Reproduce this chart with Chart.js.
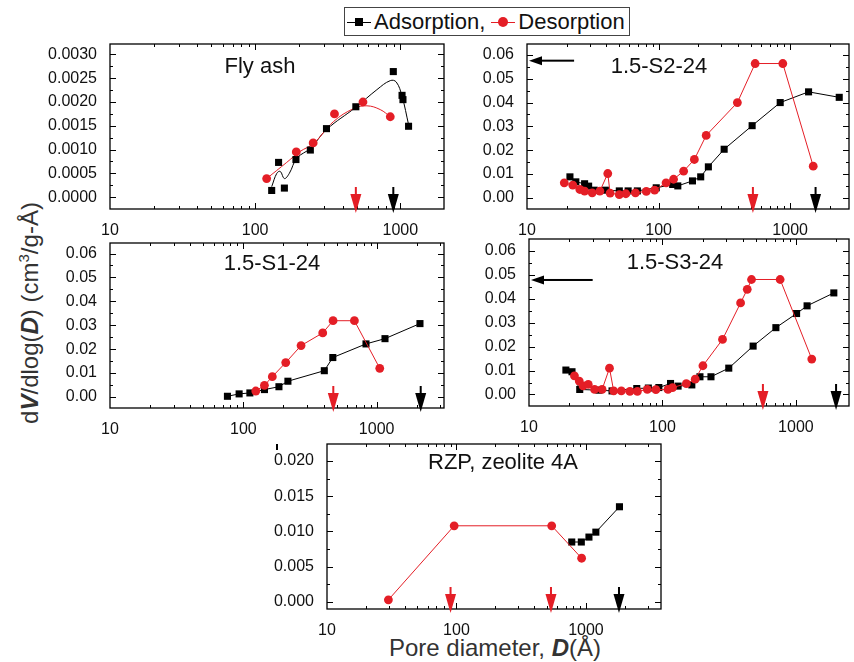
<!DOCTYPE html>
<html>
<head>
<meta charset="utf-8">
<script src="https://cdn.jsdelivr.net/npm/chart.js@4/dist/chart.umd.min.js"></script>
<style>
  html, body { margin: 0; padding: 0; background: #fff; overflow: hidden; }
  body { width: 854px; height: 662px; position: relative; font-family: "Liberation Sans", Arial, sans-serif; }
  canvas { position: absolute; }
  #legend { position: absolute; left: 344px; top: 7px; width: 282px; height: 27px; border: 1px solid #444;
            display: flex; align-items: center; font-size: 22px; color: #111; white-space: nowrap; padding-left: 2px; }
  .mk { position: relative; display: inline-block; width: 24px; height: 12px; margin-right: 3px; }
  .mk .ln { position: absolute; left: 0; right: 0; top: 6px; height: 1px; background: #000; }
  .mk .sq { position: absolute; left: 8px; top: 2px; width: 8px; height: 8px; background: #000; }
  .mk.red .ln { background: #e41e26; }
  .mk.red .dot { position: absolute; left: 7px; top: 1px; width: 10px; height: 10px; border-radius: 50%; background: #e41e26; }
  #ytitle { position: absolute; left: 29px; top: 313px; transform: translate(-50%, -50%) rotate(-90deg);
            font-size: 24px; color: #333; white-space: nowrap; }
  #xtitle { position: absolute; left: 495px; top: 648px; transform: translate(-50%, -50%);
            font-size: 24px; color: #333; white-space: nowrap; }
  #tick { position: absolute; left: 276px; top: 444px; width: 1.5px; height: 6px; background: #000; }
</style>
</head>
<body>
<div id="legend">
  <span class="mk"><i class="ln"></i><i class="sq"></i></span><span>Adsorption,</span>
  <span class="mk red" style="margin-left:6px"><i class="ln"></i><i class="dot"></i></span><span>Desorption</span>
</div>
<div id="ytitle">d<b><i>V</i></b>/dlog(<b><i>D</i></b>) (cm<sup style="font-size:15px">3</sup>/g-Å)</div>
<div id="xtitle">Pore diameter, <b><i>D</i></b>(Å)</div>
<div id="tick"></div>
<canvas id="c1"></canvas>
<canvas id="c2"></canvas>
<canvas id="c3"></canvas>
<canvas id="c4"></canvas>
<canvas id="c5"></canvas>
<script>
// ---- data: pore diameter D (Å) and dV/dlog(D) ----
var flyAdsD = [130, 145, 159, 191, 240, 310, 494, 895, 1028, 1043, 1140];
var flyAdsV = [0.00014, 0.00073, 0.00019, 0.00079, 0.00099, 0.00144, 0.0019, 0.00264, 0.00214, 0.00205, 0.00149];
var flyDesD = [120, 192, 251, 352, 553, 853];
var flyDesV = [0.00039, 0.00095, 0.00114, 0.00175, 0.0020, 0.00169];
// smoothed curves drawn through the fly ash data
var flyAdsFitD = [130, 141, 149, 159, 172, 194, 241, 310, 494, 690, 853, 938, 1028, 1141];
var flyAdsFitV = [0.00022, 0.0005, 0.00054, 0.00039, 0.0005, 0.00082, 0.00103, 0.00142, 0.00189, 0.00226, 0.00245, 0.00242, 0.00212, 0.00152];
var flyDesFitD = [120, 165, 204, 253, 347, 476, 589, 728, 853];
var flyDesFitV = [0.00039, 0.00073, 0.00096, 0.00113, 0.00159, 0.00186, 0.00192, 0.00184, 0.00169];

var s2AdsD = [21.2, 23.5, 27.4, 29.4, 32.4, 39.4, 50.3, 58.7, 69, 96, 128, 140, 181, 209, 239, 315, 514, 840, 1380, 2360];
var s2AdsV = [0.0088, 0.0067, 0.0059, 0.0049, 0.0032, 0.0032, 0.0029, 0.0029, 0.0029, 0.0042, 0.0056, 0.005, 0.0071, 0.0088, 0.013, 0.0204, 0.0303, 0.040, 0.0445, 0.0422];
var s2DesD = [19.2, 22.3, 25.2, 27.4, 31.3, 35.8, 41.1, 42.8, 50.3, 56.4, 66.7, 80.7, 93.3, 114, 130, 155, 187, 230, 397, 542, 879, 1497];
var s2DesV = [0.0063, 0.0053, 0.0035, 0.0028, 0.0021, 0.0028, 0.0102, 0.002, 0.0013, 0.0017, 0.0021, 0.0027, 0.0032, 0.0063, 0.0078, 0.0112, 0.0161, 0.0262, 0.040, 0.0564, 0.0564, 0.0133];

var s1AdsD = [76, 93, 112, 144, 185, 216, 405, 469, 832, 1155, 2113];
var s1AdsV = [0.0003, 0.0013, 0.0017, 0.0031, 0.0043, 0.0066, 0.011, 0.0165, 0.0222, 0.0244, 0.0307];
var s1DesD = [124, 144, 165, 208, 271, 394, 471, 681, 1055];
var s1DesV = [0.0025, 0.0049, 0.0085, 0.0144, 0.0215, 0.0268, 0.0319, 0.0319, 0.012];

var s3AdsD = [18.9, 21, 24, 33.4, 41.9, 64.2, 78.4, 94, 115, 131, 166, 191, 231, 314, 478, 708, 1012, 1213, 1924];
var s3AdsV = [0.0102, 0.0095, 0.0021, 0.0018, 0.0015, 0.0025, 0.0027, 0.0029, 0.0046, 0.0035, 0.004, 0.0074, 0.0074, 0.011, 0.0202, 0.0279, 0.0338, 0.037, 0.0424];
var s3DesD = [21.9, 23.8, 25.4, 27.8, 31, 35.3, 40.1, 43.1, 49.2, 57, 64.9, 77, 89.3, 110, 119, 151, 176, 201, 282, 385, 432, 465, 762, 1315];
var s3DesV = [0.0078, 0.0056, 0.0036, 0.0042, 0.0021, 0.0021, 0.011, 0.0015, 0.0015, 0.0013, 0.0013, 0.0021, 0.002, 0.0021, 0.0029, 0.0045, 0.0064, 0.012, 0.023, 0.0382, 0.0439, 0.048, 0.048, 0.0148];

var rzpAdsD = [777, 921, 1055, 1193, 1815];
var rzpAdsV = [0.0085, 0.0085, 0.0092, 0.0099, 0.0135];
var rzpDesD = [29.8, 96, 544, 926];
var rzpDesV = [0.0003, 0.0108, 0.0108, 0.0062];

// arrow markers (D values) and horizontal arrows (level, end D)
var flyRedArrows = [494], flyBlackArrows = [895];
var s2RedArrows = [521], s2BlackArrows = [1560], s2Level = [0.0576, 22.8];
var s1RedArrows = [473], s1BlackArrows = [2140];
var s3RedArrows = [566], s3BlackArrows = [2000], s3Level = [0.0478, 30];
var rzpRedArrows = [90, 537], rzpBlackArrows = [1800];

// tick labels
var xTicks = [10, 100, 1000];
var flyTicks = [0, 0.0005, 0.001, 0.0015, 0.002, 0.0025, 0.003];
var sTicks = [0, 0.01, 0.02, 0.03, 0.04, 0.05, 0.06];
var rzpTicks = [0, 0.005, 0.01, 0.015, 0.02];

var RED = '#e41e26';
var FONT = '"Liberation Sans", Arial, sans-serif';

function pts(xs, ys) {
    return xs.map(function (x, i) { return { x: x, y: ys[i] }; });
}

function series(xs, ys, red) {
    var c = red ? RED : '#000';
    return {
        data: pts(xs, ys), borderColor: c, backgroundColor: c, borderWidth: 1,
        pointStyle: red ? 'circle' : 'rect', pointRadius: red ? 4.4 : 5, pointBorderWidth: 0, tension: 0
    };
}

var framePlugin = {
    id: 'frame',
    afterDatasetsDraw: function (chart, args, o) {
        var ctx = chart.ctx, a = chart.chartArea, xs = chart.scales.x, ys = chart.scales.y;
        ctx.save();
        ctx.strokeStyle = '#000';
        ctx.lineWidth = 1;
        ctx.beginPath();
        var lo = Math.floor(Math.log10(xs.min)), hi = Math.ceil(Math.log10(xs.max));
        for (var k = lo; k <= hi; k++) {
            for (var m = 1; m < 10; m++) {
                var v = m * Math.pow(10, k);
                if (v <= xs.min || v >= xs.max) continue;
                var px = Math.round(xs.getPixelForValue(v)) + 0.5, len = m === 1 ? 6 : 3;
                ctx.moveTo(px, a.bottom); ctx.lineTo(px, a.bottom - len);
                ctx.moveTo(px, a.top); ctx.lineTo(px, a.top + len);
            }
        }
        var yt = o.yTicks, step = yt[1] - yt[0];
        for (var i = 0; i < yt.length; i++) {
            [[yt[i], 6], [yt[i] + step / 2, 3]].forEach(function (t) {
                if (t[0] >= ys.max) return;
                var py = Math.round(ys.getPixelForValue(t[0])) + 0.5;
                ctx.moveTo(a.left, py); ctx.lineTo(a.left + t[1], py);
                ctx.moveTo(a.right, py); ctx.lineTo(a.right - t[1], py);
            });
        }
        ctx.stroke();
        ctx.lineWidth = 1.3;
        ctx.strokeRect(a.left, a.top, a.right - a.left, a.bottom - a.top);

        // downward arrows at the x axis
        var arrows = o.red.map(function (d) { return [d, RED]; }).concat(o.black.map(function (d) { return [d, '#000']; }));
        arrows.forEach(function (ar) {
            var x = xs.getPixelForValue(ar[0]);
            ctx.fillStyle = ar[1];
            ctx.fillRect(x - 1, a.bottom - 22, 2, 8);
            ctx.beginPath();
            ctx.moveTo(x - 5.5, a.bottom - 15);
            ctx.lineTo(x + 5.5, a.bottom - 15);
            ctx.lineTo(x, a.bottom + 4);
            ctx.closePath();
            ctx.fill();
        });
        // horizontal arrow pointing to the y axis
        if (o.level) {
            var y = ys.getPixelForValue(o.level[0]);
            var x2 = xs.getPixelForValue(o.level[1]);
            ctx.fillStyle = '#000';
            ctx.fillRect(a.left + 14, y - 1, x2 - a.left - 14, 2);
            ctx.beginPath();
            ctx.moveTo(a.left + 2, y);
            ctx.lineTo(a.left + 15, y - 4.5);
            ctx.lineTo(a.left + 15, y + 4.5);
            ctx.closePath();
            ctx.fill();
        }
        // panel label
        ctx.fillStyle = '#111';
        ctx.font = '22px ' + FONT;
        ctx.textAlign = 'center';
        ctx.textBaseline = 'middle';
        ctx.fillText(o.title, a.left + o.tx, a.top + o.ty);
        ctx.restore();
    }
};

function panel(id, box, xMax, yMin, yMax, yTicks, dec, datasets, extra) {
    var padR = box.padR === undefined ? 10 : box.padR;
    var cv = document.getElementById(id);
    var w = box.R - box.L, h = box.B - box.T;
    cv.width = Math.round(w + 80 + padR);
    cv.height = Math.round(h + 8 + 30);
    cv.style.left = (box.L - 80) + 'px';
    cv.style.top = (box.T - 8) + 'px';
    var zeroPad = function (s) { s.paddingLeft = 0; s.paddingRight = 0; s.paddingTop = 0; s.paddingBottom = 0; };
    extra.yTicks = yTicks;
    return new Chart(cv, {
        type: 'scatter',
        data: { datasets: datasets },
        options: {
            responsive: false,
            animation: false,
            devicePixelRatio: 1,
            layout: { padding: { left: 0, top: 8, right: cv.width - 80 - w, bottom: 0 } },
            plugins: { legend: { display: false }, tooltip: { enabled: false }, frame: extra },
            scales: {
                x: {
                    type: 'logarithmic', min: 10, max: xMax,
                    grid: { display: false }, border: { display: false },
                    afterBuildTicks: function (s) { s.ticks = xTicks.map(function (v) { return { value: v }; }); },
                    afterFit: function (s) { s.height = 30; zeroPad(s); },
                    ticks: { autoSkip: false, maxRotation: 0, padding: 4, color: '#111',
                             font: { family: FONT, size: 16 },
                             callback: function (v) { return String(v); } }
                },
                y: {
                    min: yMin, max: yMax,
                    grid: { display: false }, border: { display: false },
                    afterBuildTicks: function (s) { s.ticks = yTicks.map(function (v) { return { value: v }; }); },
                    afterFit: function (s) { s.width = 80; zeroPad(s); },
                    ticks: { padding: 5, color: '#111', font: { family: FONT, size: 16 },
                             callback: function (v) { return Number(v).toFixed(dec); } }
                }
            }
        },
        plugins: [framePlugin]
    });
}

function fit(xs, ys, red) {
    var d = series(xs, ys, red);
    d.pointRadius = 0;
    d.tension = 0.4;
    d.showLine = true;
    return d;
}
function dots(xs, ys, red) {
    var d = series(xs, ys, red);
    d.showLine = false;
    return d;
}
function joined(xs, ys, red) {
    var d = series(xs, ys, red);
    d.showLine = true;
    return d;
}

panel('c1', { L: 110, T: 44, R: 444, B: 209 }, 2000, -0.00025, 0.00322, flyTicks, 4,
    [dots(flyDesD, flyDesV, true), dots(flyAdsD, flyAdsV, false), fit(flyDesFitD, flyDesFitV, true), fit(flyAdsFitD, flyAdsFitV, false)],
    { red: flyRedArrows, black: flyBlackArrows, title: 'Fly ash', tx: 150, ty: 23 });

panel('c2', { L: 527, T: 44, R: 852, B: 209, padR: 2 }, 2800, -0.0047, 0.0646, sTicks, 2,
    [joined(s2DesD, s2DesV, true), joined(s2AdsD, s2AdsV, false)],
    { red: s2RedArrows, black: s2BlackArrows, level: s2Level, title: '1.5-S2-24', tx: 132, ty: 23 });

panel('c3', { L: 110, T: 243, R: 444, B: 408 }, 3200, -0.0046, 0.0644, sTicks, 2,
    [joined(s1DesD, s1DesV, true), joined(s1AdsD, s1AdsV, false)],
    { red: s1RedArrows, black: s1BlackArrows, title: '1.5-S1-24', tx: 162, ty: 21 });

panel('c4', { L: 529, T: 239, R: 853, B: 406, padR: 1 }, 2500, -0.0048, 0.0649, sTicks, 2,
    [joined(s3DesD, s3DesV, true), joined(s3AdsD, s3AdsV, false)],
    { red: s3RedArrows, black: s3BlackArrows, level: s3Level, title: '1.5-S3-24', tx: 146, ty: 24 });

panel('c5', { L: 327, T: 444, R: 661, B: 609 }, 3800, -0.001, 0.0224, rzpTicks, 3,
    [joined(rzpDesD, rzpDesV, true), joined(rzpAdsD, rzpAdsV, false)],
    { red: rzpRedArrows, black: rzpBlackArrows, title: 'RZP, zeolite 4A', tx: 176, ty: 19 });
</script>
</body>
</html>
